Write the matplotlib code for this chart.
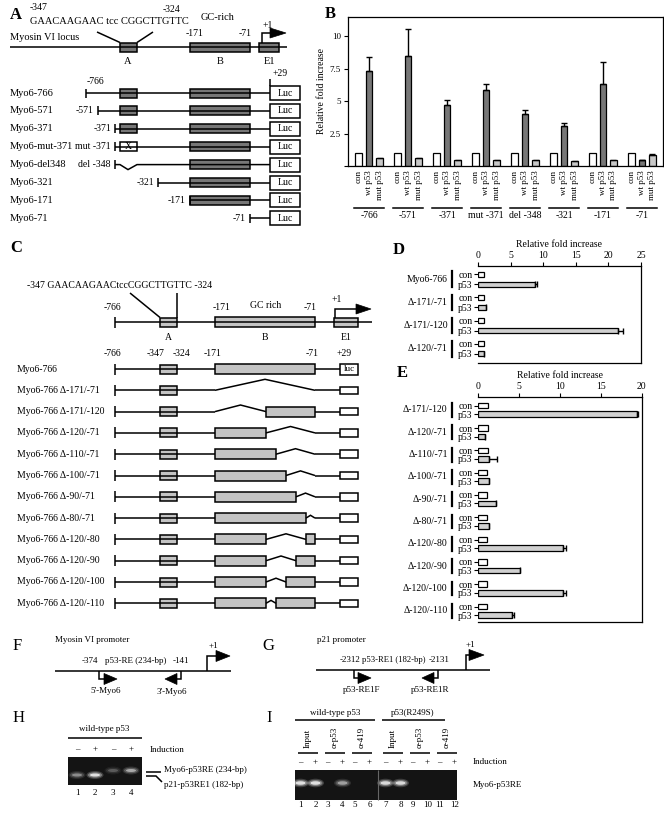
import numpy as np
import matplotlib
matplotlib.use("Agg")
import matplotlib.pyplot as plt
import matplotlib.transforms as mtrans
from matplotlib.patches import Rectangle, Polygon, Ellipse

plt.rcParams['font.family'] = ['Liberation Serif', 'DejaVu Serif']

# ---------------- data ----------------
# panel A constructs
a_constructs = ["Myo6-766", "Myo6-571", "Myo6-371", "Myo6-mut-371",
                "Myo6-del348", "Myo6-321", "Myo6-171", "Myo6-71"]
a_starts = [-766, -571, -371, -371, -371, -321, -171, -71]
a_start_labels = ["-766", "-571", "-371", "mut -371", "del -348", "-321", "-171", "-71"]
a_site_a = ["wt", "wt", "wt", "mut", "del", None, None, None]
a_site_b = [True, True, True, True, True, True, True, False]

# panel B luciferase
b_groups = ["-766", "-571", "-371", "mut -371", "del -348", "-321", "-171", "-71"]
b_series = ["con", "wt p53", "mut p53"]
b_con = [1.0, 1.0, 1.0, 1.0, 1.0, 1.0, 1.0, 1.0]
b_wt = [7.35, 8.5, 4.7, 5.85, 4.05, 3.1, 6.35, 0.5]
b_wt_err = [1.1, 2.1, 0.4, 0.5, 0.25, 0.25, 1.65, 0.0]
b_mut = [0.65, 0.65, 0.45, 0.5, 0.5, 0.35, 0.45, 0.85]
b_mut_err = [0, 0, 0, 0, 0, 0, 0, 0.1]

# panel C deletion constructs
c_rows = ["Myo6-766", "Myo6-766 Δ-171/-71", "Myo6-766 Δ-171/-120", "Myo6-766 Δ-120/-71",
          "Myo6-766 Δ-110/-71", "Myo6-766 Δ-100/-71", "Myo6-766 Δ-90/-71", "Myo6-766 Δ-80/-71",
          "Myo6-766 Δ-120/-80", "Myo6-766 Δ-120/-90", "Myo6-766 Δ-120/-100", "Myo6-766 Δ-120/-110"]
c_dels = [None, (-171, -71), (-171, -120), (-120, -71), (-110, -71), (-100, -71), (-90, -71),
          (-80, -71), (-120, -80), (-120, -90), (-120, -100), (-120, -110)]

# panel D
d_rows = ["Myo6-766", "Δ-171/-71", "Δ-171/-120", "Δ-120/-71"]
d_con = [0.9, 0.9, 0.9, 0.9]
d_p53 = [8.8, 1.2, 21.4, 0.95]
d_p53_err = [0.3, 0, 0.8, 0]

# panel E
e_rows = ["Δ-171/-120", "Δ-120/-71", "Δ-110/-71", "Δ-100/-71", "Δ-90/-71",
          "Δ-80/-71", "Δ-120/-80", "Δ-120/-90", "Δ-120/-100", "Δ-120/-110"]
e_con = [1.2, 1.2, 1.2, 1.1, 1.1, 1.1, 1.1, 1.1, 1.1, 1.1]
e_p53 = [19.4, 0.9, 1.35, 1.3, 2.15, 1.3, 10.4, 5.1, 10.4, 4.1]
e_p53_err = [0.2, 0, 0.95, 0, 0, 0, 0.3, 0, 0.3, 0.3]

# panel H gel
h_lanes = ["1", "2", "3", "4"]
h_induction = ["–", "+", "–", "+"]
h_band = ["p21", "p21", "myo6", "myo6"]
h_intensity = [0.45, 0.95, 0.25, 0.6]

# panel I gel
i_groups = ["wild-type p53", "p53(R249S)"]
i_abs = ["Input", "α-p53", "α-419", "Input", "α-p53", "α-419"]
i_induction = ["–", "+"] * 6
i_intensity = [0.95, 0.95, 0, 0.55, 0, 0, 0.9, 0.9, 0, 0, 0, 0]

DARK = '#777777'
LIGHT = '#c8c8c8'
CBOX = '#c4c4c4'

fig = plt.figure(figsize=(6.64, 8.15), dpi=100)
cv = fig.add_axes([0, 0, 1, 1])
cv.set_xlim(0, 664)
cv.set_ylim(815, 0)
cv.axis('off')


def txt(x, y, s, size=7.5, ha='left', va='center', **kw):
    cv.text(x, y, s, fontsize=size, ha=ha, va=va, **kw)


def line(xs, ys, lw=1.1, color='k'):
    cv.plot(xs, ys, color=color, lw=lw, solid_capstyle='butt', solid_joinstyle='miter')


def box(x0, x1, yc, h, fc):
    cv.add_patch(Rectangle((x0, yc - h / 2), x1 - x0, h, fc=fc, ec='k', lw=1.1))


def tri(xb, xt, y, hw=5):
    cv.add_patch(Polygon([(xb, y - hw), (xb, y + hw), (xt, y)], closed=True, fc='k', ec='k', lw=0.5))


# ---------------- panel A ----------------
a_bp = [-766, -571, -371, -347, -324, -321, -171, -71, 1, 29]
a_px = [86, 98, 115, 120, 137, 158, 190, 250, 262, 270]


def apx(bp):
    return float(np.interp(bp, a_bp, a_px))


txt(10, 15, 'A', size=12, weight='bold')
txt(30, 8, '-347', size=7, ha='left')
txt(180, 9, '-324', size=7, ha='right')
txt(30, 22, 'GAACAAGAAC tcc CGGCTTGTTC', size=7.5)
txt(218, 18, 'GC-rich', size=7.5, ha='center')
txt(10, 38, 'Myosin VI locus', size=7.5)
line([10, 287], [47, 47])
line([97, apx(-347)], [32, 42.5])
line([153, apx(-324)], [32, 42.5])
box(apx(-347), apx(-324), 47, 9, DARK)
box(apx(-171), apx(-71), 47, 9, DARK)
box(259, 279, 47, 9, DARK)
txt(apx(-171) + 5, 34, '-171', size=7, ha='center')
txt(apx(-71) - 5, 34, '-71', size=7, ha='center')
txt(128, 61, 'A', size=7.5, ha='center')
txt(220, 61, 'B', size=7.5, ha='center')
txt(269, 61, 'E1', size=7.5, ha='center')
line([262, 262, 272], [42.5, 33, 33])
tri(270, 286, 33)
txt(268, 25, '+1', size=7, ha='center')
txt(280, 74, '+29', size=7, ha='center')
line([270, 270], [79, 86])

for i, name in enumerate(a_constructs):
    y = 93 + 17.9 * i
    txt(10, y, name)
    xs = apx(a_starts[i])
    line([xs, xs], [y - 4.5, y + 4.5])
    if a_site_a[i] == 'del':
        line([xs, apx(-347), 128, apx(-324), 270], [y, y, y + 5, y, y])
    else:
        line([xs, 270], [y, y])
    if a_site_a[i] == 'wt':
        box(apx(-347), apx(-324), y, 9, DARK)
    elif a_site_a[i] == 'mut':
        box(apx(-347), apx(-324), y, 9, 'white')
        txt(128.5, y, 'X', size=7, ha='center')
    if a_site_b[i]:
        box(apx(-171), apx(-71), y, 9, DARK)
    box(270, 300, y, 14, 'white')
    txt(285, y, 'Luc', size=7, ha='center')
    if i == 0:
        txt(95, 81, a_start_labels[i], size=7, ha='center')
    else:
        txt(xs - 4, y, a_start_labels[i], size=7, ha='right')

# ---------------- panel B ----------------
txt(325, 14, 'B', size=12, weight='bold')
axB = fig.add_axes([348 / 664, 1 - 166 / 815, 315 / 664, 149 / 815])
xg = np.arange(len(b_groups))
off, w = 0.27, 0.17
ekw = dict(capsize=2.5, elinewidth=1, capthick=1, ecolor='k')
zeros = np.zeros(len(b_groups))
axB.bar(xg - off, b_con, w, color='white', ec='k', lw=0.9)
axB.bar(xg, b_wt, w, color=DARK, ec='k', lw=0.9, yerr=[zeros, b_wt_err], error_kw=ekw)
axB.bar(xg + off, b_mut, w, color=LIGHT, ec='k', lw=0.9,
        yerr=[zeros, np.where(np.array(b_mut_err) > 0, b_mut_err, np.nan)], error_kw=ekw)
axB.set_xlim(-0.54, 7.54)
axB.set_ylim(0, 11.5)
pos = np.concatenate([xg - off, xg, xg + off])
labs = [b_series[0]] * 8 + [b_series[1]] * 8 + [b_series[2]] * 8
axB.set_xticks(pos)
axB.set_xticklabels(labs, rotation=90, fontsize=6.5, va='top')
axB.tick_params(axis='x', length=0, pad=3)
axB.set_yticks([0, 2.5, 5, 7.5, 10])
axB.set_yticklabels(['', '2.5', '5', '7.5', '10'], fontsize=6.5)
axB.tick_params(axis='y', length=3, width=0.8, pad=2)
axB.set_ylabel('Relative fold increase', fontsize=7, labelpad=3)
for s in axB.spines.values():
    s.set_linewidth(0.9)
trB = mtrans.blended_transform_factory(axB.transData, axB.transAxes)
for i, g in enumerate(b_groups):
    axB.plot([i - off - 0.12, i + off + 0.12], [-0.283, -0.283], color='k', lw=1.1,
             transform=trB, clip_on=False)
    axB.text(i, -0.305, g, fontsize=7, ha='center', va='top', transform=trB)

# ---------------- panel C ----------------
c_bp = [-766, -347, -324, -171, -71, 1, 29]
c_px = [115, 160, 177, 215, 315, 335, 340]


def cpx(bp):
    return float(np.interp(bp, c_bp, c_px))


txt(10, 248, 'C', size=12, weight='bold')
txt(27, 285, '-347 GAACAAGAACtccCGGCTTGTTC -324', size=7)
y0 = 322
line([cpx(-766), 372], [y0, y0])
line([115, 115], [y0 - 5.5, y0 + 5.5])
line([130, cpx(-347)], [293, y0 - 4.5])
line([cpx(-324), cpx(-324)], [293, y0 - 4.5])
box(cpx(-347), cpx(-324), y0, 9, CBOX)
box(cpx(-171), cpx(-71), y0, 10, CBOX)
box(334, 358, y0, 9, CBOX)
txt(112, 307, '-766', size=7, ha='center')
txt(222, 307, '-171', size=7, ha='center')
txt(266, 306, 'GC rich', size=7, ha='center')
txt(310, 307, '-71', size=7, ha='center')
txt(168, 337, 'A', size=7, ha='center')
txt(265, 337, 'B', size=7, ha='center')
txt(346, 337, 'E1', size=7, ha='center')
txt(337, 299, '+1', size=7, ha='center')
line([335, 335, 358], [y0 - 4.5, 309, 309])
tri(356, 371, 309)
for bp, lab, dx in [(-766, '-766', -3), (-347, '-347', -4), (-324, '-324', 5),
                    (-171, '-171', -2), (-71, '-71', -3)]:
    txt(cpx(bp) + dx, 354, lab, size=7, ha='center')
txt(344, 354, '+29', size=7, ha='center')

for i, (name, d) in enumerate(zip(c_rows, c_dels)):
    y = 369 + 21.3 * i
    txt(17, y, name, size=7)
    line([115, 115], [y - 5.5, y + 5.5])
    line([115, cpx(-171)], [y, y])
    box(cpx(-347), cpx(-324), y, 9, CBOX)
    if d is None:
        box(cpx(-171), cpx(-71), y, 10, CBOX)
    else:
        s, e = d
        if s > -171:
            box(cpx(-171), cpx(s), y, 10, CBOX)
        if e < -71:
            box(cpx(e), cpx(-71), y, 10, CBOX)
        hgt = 2 + 0.09 * (e - s)
        line([cpx(s), (cpx(s) + cpx(e)) / 2, cpx(e)], [y, y - hgt, y])
    line([cpx(-71), 340], [y, y])
    if i == 0:
        box(340, 358, y, 11, 'white')
        txt(349, y, 'luc', size=6.5, ha='center')
    else:
        box(340, 358, y, 7.5, 'white')

# ---------------- panel D ----------------
txt(393, 250, 'D', size=12, weight='bold')
axD = fig.add_axes([478 / 664, 1 - 363 / 815, 163 / 664, 97 / 815])
pd_ = np.arange(len(d_rows))
gapD, hD = 0.43, 0.22
axD.barh(pd_, d_con, hD, color='white', ec='k', lw=0.9)
axD.barh(pd_ + gapD, d_p53, hD, color='#d0d0d0', ec='k', lw=0.9,
         xerr=[np.zeros(4), np.where(np.array(d_p53_err) > 0, d_p53_err, np.nan)],
         error_kw=dict(capsize=2, elinewidth=1, capthick=1, ecolor='k'))
axD.set_ylim(3.82, -0.35)
axD.set_xlim(0, 25)

# ---------------- panel E ----------------
txt(397, 373, 'E', size=12, weight='bold')
axE = fig.add_axes([478 / 664, 1 - 622 / 815, 163.7 / 664, 225 / 815])
pe_ = np.arange(len(e_rows))
gapE, hE = 0.38, 0.25
axE.barh(pe_, e_con, hE, color='white', ec='k', lw=0.9)
axE.barh(pe_ + gapE, e_p53, hE, color='#d0d0d0', ec='k', lw=0.9,
         xerr=[np.zeros(10), np.where(np.array(e_p53_err) > 0, e_p53_err, np.nan)],
         error_kw=dict(capsize=2, elinewidth=1, capthick=1, ecolor='k'))
axE.set_ylim(9.69, -0.39)
axE.set_xlim(0, 20)

for ax, rows, p, gap, ticks in [(axD, d_rows, pd_, gapD, [0, 5, 10, 15, 20, 25]),
                                (axE, e_rows, pe_, gapE, [0, 5, 10, 15, 20])]:
    ax.xaxis.tick_top()
    ax.xaxis.set_label_position('top')
    ax.set_xticks(ticks)
    ax.set_xticklabels([str(t) for t in ticks], fontsize=7)
    ax.set_xlabel('Relative fold increase', fontsize=7, labelpad=3)
    ax.tick_params(axis='x', length=3, width=0.8, pad=1.5)
    ax.spines['left'].set_visible(False)
    for s in ['top', 'right', 'bottom']:
        ax.spines[s].set_linewidth(0.9)
    yt = np.concatenate([p, p + gap])
    ax.set_yticks(yt)
    ax.set_yticklabels(['con'] * len(p) + ['p53'] * len(p), fontsize=7)
    ax.tick_params(axis='y', length=3, width=0.8, pad=1)
    tr = mtrans.blended_transform_factory(ax.transAxes, ax.transData)
    for i, r in enumerate(rows):
        ax.plot([-0.16, -0.16], [i - 0.12, i + gap + 0.12], color='k', lw=1.6,
                transform=tr, clip_on=False)
        ax.text(-0.185, i + gap / 2, r, fontsize=7, ha='right', va='center', transform=tr)

# ---------------- panel F ----------------
txt(13, 646, 'F', size=12)
txt(55, 640, 'Myosin VI promoter', size=6.5)
line([55, 231], [671, 671])
txt(90, 661, '-374', size=6.5, ha='center')
txt(136, 661, 'p53-RE (234-bp)', size=6.5, ha='center')
txt(181, 661, '-141', size=6.5, ha='center')
line([99, 99, 105], [671, 679, 679])
tri(104, 117, 679, 5.5)
txt(106, 691, "5'-Myo6", size=6.5, ha='center')
line([181, 181, 176], [671, 679, 679])
tri(177, 165, 679, 5.5)
txt(172, 692, "3'-Myo6", size=6.5, ha='center')
line([207, 207, 218], [671, 656, 656])
tri(216, 230, 656, 5.5)
txt(213, 646, '+1', size=6.5, ha='center')

# ---------------- panel G ----------------
txt(262, 646, 'G', size=12)
txt(317, 640, 'p21 promoter', size=6.5)
line([316, 490], [670, 670])
txt(350, 660, '-2312', size=6.5, ha='center')
txt(394, 660, 'p53-RE1 (182-bp)', size=6.2, ha='center')
txt(439, 660, '-2131', size=6.5, ha='center')
line([354, 354, 359], [670, 678, 678])
tri(358, 371, 678, 5.5)
txt(362, 690, 'p53-RE1F', size=6.5, ha='center')
line([438, 438, 433], [670, 678, 678])
tri(434, 422, 678, 5.5)
txt(430, 690, 'p53-RE1R', size=6.5, ha='center')
line([466, 466, 471], [670, 655, 655])
tri(469, 484, 655, 5.5)
txt(470, 645, '+1', size=6.5, ha='center')


def band(x, y, inten, wdt=12, hgt=4):
    if inten <= 0:
        return
    cv.add_patch(Ellipse((x, y), wdt + 5, hgt + 4, fc='white', ec='none', alpha=0.2 * inten))
    cv.add_patch(Ellipse((x, y), wdt + 2, hgt + 1.5, fc='white', ec='none', alpha=0.35 * inten))
    cv.add_patch(Ellipse((x, y), wdt - 2, hgt - 1, fc='white', ec='none', alpha=0.8 * inten))


# ---------------- panel H ----------------
txt(13, 718, 'H', size=12)
txt(104, 729, 'wild-type p53', size=6.5, ha='center')
line([68, 142], [738, 738])
h_x = 77 + 18 * np.arange(len(h_lanes))
cv.add_patch(Rectangle((68, 757), 74, 28, fc='#141414', ec='none'))
for i in range(len(h_lanes)):
    txt(h_x[i], 749, h_induction[i], size=6.5, ha='center')
    by = 775 if h_band[i] == 'p21' else 770.5
    band(h_x[i], by, h_intensity[i])
    txt(h_x[i], 793, h_lanes[i], size=6.5, ha='center')
txt(150, 750, 'Induction', size=6.5)
line([146, 161], [771.5, 771.5])
line([146, 156, 162], [776, 776, 782])
txt(164, 770, 'Myo6-p53RE (234-bp)', size=6.5)
txt(164, 785, 'p21-p53RE1 (182-bp)', size=6.5)

# ---------------- panel I ----------------
txt(266, 718, 'I', size=12)
pair_c = np.array([308, 335, 362, 393, 420, 447])
lane_x = np.ravel(np.column_stack([pair_c - 7.5, pair_c + 7.5]))
txt(335, 713, i_groups[0], size=6.5, ha='center')
line([295, 375], [720, 720])
txt(413, 713, i_groups[1], size=6.5, ha='center')
line([382, 445], [720, 720])
for k, lab in enumerate(i_abs):
    cv.text(pair_c[k], 748, lab, fontsize=6.5, rotation=90, ha='center', va='bottom')
    line([pair_c[k] - 10, pair_c[k] + 10], [753, 753])
cv.add_patch(Rectangle((295, 770), 162, 30, fc='#141414', ec='none'))
line([378, 378], [770, 800], lw=0.8, color='#666666')
for j in range(len(lane_x)):
    txt(lane_x[j], 762, i_induction[j], size=6.5, ha='center')
    band(lane_x[j], 783, i_intensity[j], wdt=12, hgt=4.5)
    txt(lane_x[j], 805, str(j + 1), size=6.5, ha='center')
txt(473, 762, 'Induction', size=6.5)
txt(473, 785, 'Myo6-p53RE', size=6.5)

fig.savefig('out.png', dpi=100, facecolor='white')
